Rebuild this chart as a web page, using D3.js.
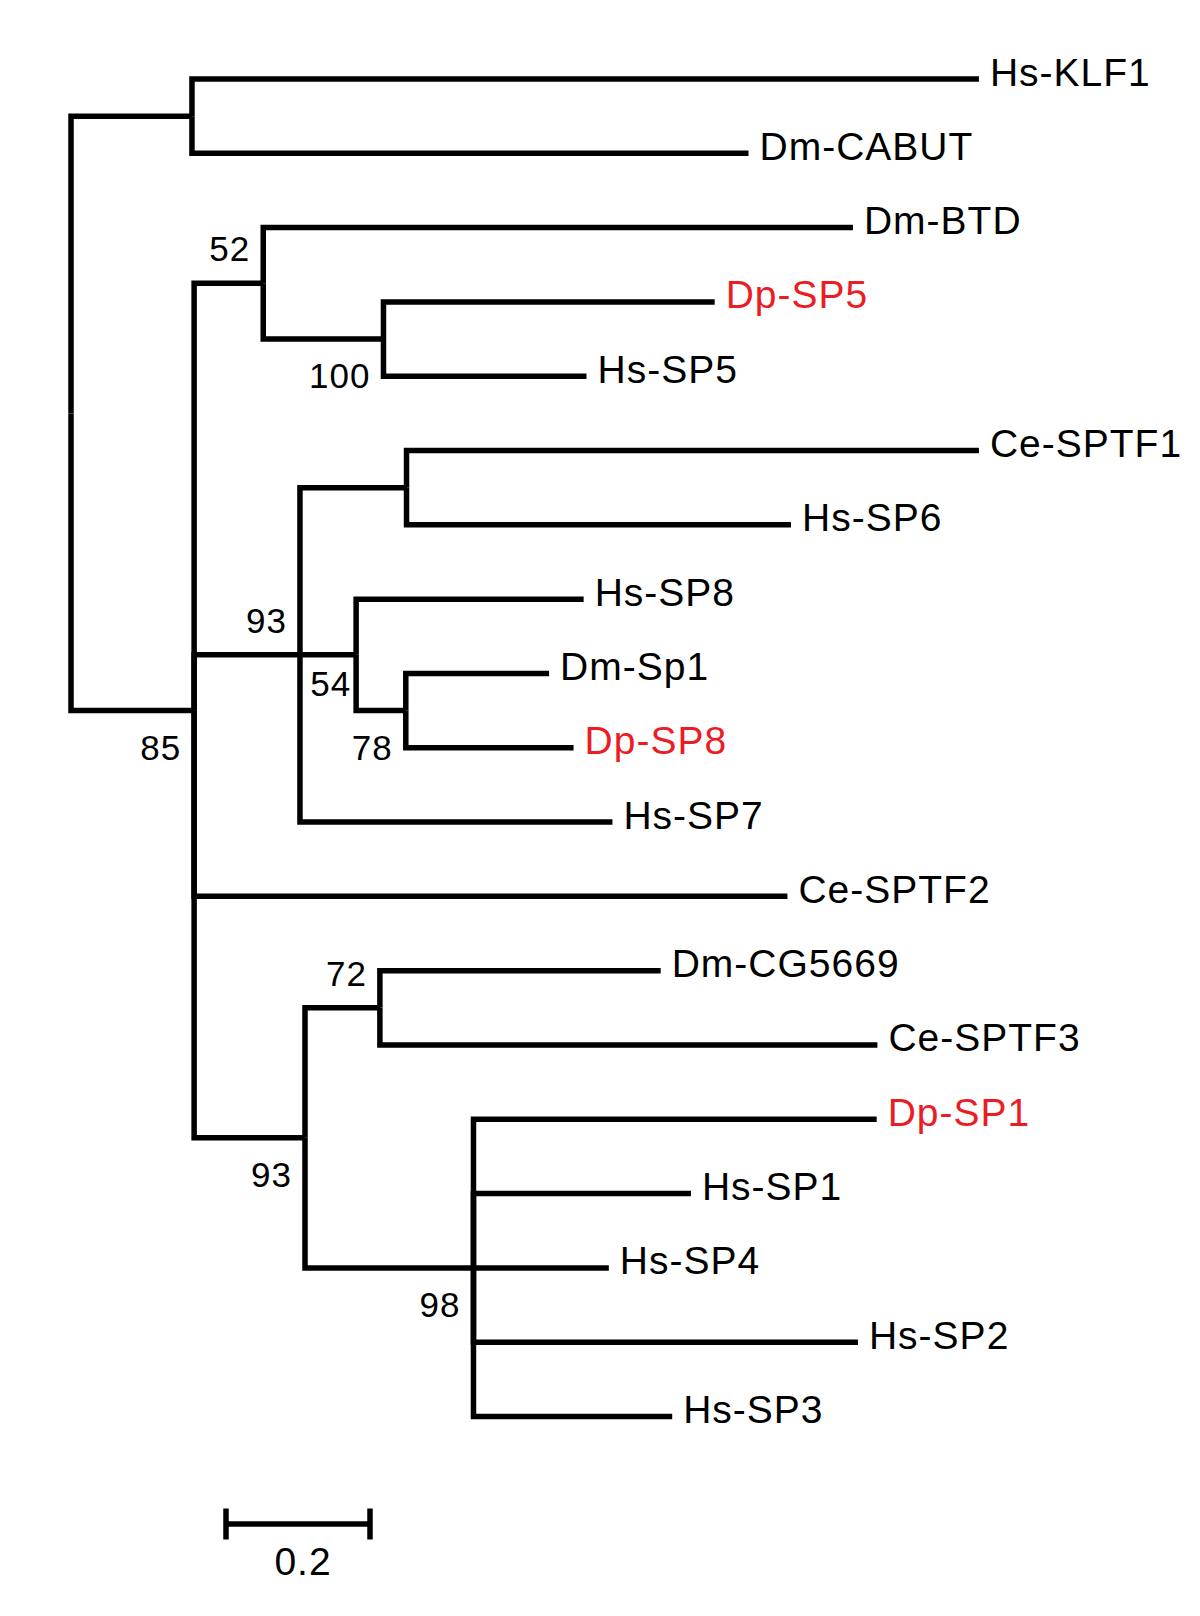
<!DOCTYPE html>
<html>
<head>
<meta charset="utf-8">
<script src="https://cdn.jsdelivr.net/npm/d3@7"></script>
<style>
  html, body { margin: 0; padding: 0; background: #ffffff; }
  svg { display: block; }
</style>
</head>
<body>
<script>
// ---- Data (tree topology, branch lengths, bootstrap support) ----
const nodeIds = [
  "root", "nKC", "Hs-KLF1", "Dm-CABUT",
  "n85", "n52", "Dm-BTD", "n100", "Dp-SP5", "Hs-SP5",
  "n93a", "nCe1", "Ce-SPTF1", "Hs-SP6", "n54", "Hs-SP8", "n78", "Dm-Sp1", "Dp-SP8", "Hs-SP7",
  "Ce-SPTF2",
  "n93b", "n72", "Dm-CG5669", "Ce-SPTF3", "n98", "Dp-SP1", "Hs-SP1", "Hs-SP4", "Hs-SP2", "Hs-SP3"
];
const parentIds = [
  null, "root", "nKC", "nKC",
  "root", "n85", "n52", "n52", "n100", "n100",
  "n85", "n93a", "nCe1", "nCe1", "n93a", "n54", "n54", "n78", "n78", "n93a",
  "n85",
  "n85", "n93b", "n72", "n72", "n93b", "n98", "n98", "n98", "n98", "n98"
];
const branchLengths = [
  0, 0.168, 1.093, 0.773,
  0.171, 0.096, 0.819, 0.167, 0.460, 0.282,
  0.147, 0.148, 0.795, 0.534, 0.078, 0.316, 0.069, 0.199, 0.233, 0.434,
  0.824,
  0.154, 0.104, 0.390, 0.691, 0.234, 0.560, 0.302, 0.188, 0.534, 0.276
];
const supportValues = [
  null, null, null, null,
  85, 52, null, 100, null, null,
  93, null, null, null, 54, null, 78, null, null, null,
  null,
  93, 72, null, null, 98, null, null, null, null, null
];
const supportSide = [
  null, null, null, null,
  "below", "above", null, "below", null, null,
  "above", null, null, null, "inner", null, "below", null, null, null,
  null,
  "below", "above", null, null, "below", null, null, null, null, null
];
const highlightedTaxa = ["Dp-SP5", "Dp-SP8", "Dp-SP1"];
const scaleBarValue = 0.2;
const scaleBarLabel = "0.2";

// ---- Layout ----
const W = 1200, H = 1616;
const strokeW = 5.5;
const labelFont = 39, supportFont = 35;
const red = "#ec1c24";

const rows = nodeIds.map((id, i) => ({
  id, parent: parentIds[i], len: branchLengths[i],
  support: supportValues[i], side: supportSide[i]
}));
const root = d3.stratify().id(d => d.id).parentId(d => d.parent)(rows);

// cumulative distance from the root
root.each(n => { n.dist = n.parent ? n.parent.dist + n.data.len : 0; });

const leaves = root.leaves();
const x = d3.scaleLinear().domain([0, 1.5]).range([71, 71 + 1080]);
const y = d3.scalePoint().domain(leaves.map(d => d.id)).range([79, 1416.5]);

root.eachAfter(n => {
  n.px = x(n.dist);
  if (!n.children) n.py = y(n.id);
  else n.py = (n.children[0].py + n.children[n.children.length - 1].py) / 2;
});

const svg = d3.select("body").append("svg")
  .attr("width", W).attr("height", H)
  .attr("font-family", "'Liberation Sans', Arial, Helvetica, sans-serif");

svg.append("rect").attr("width", W).attr("height", H).attr("fill", "#fff");

// branches (elbow links)
svg.append("g")
  .attr("fill", "none").attr("stroke", "#000")
  .attr("stroke-width", strokeW).attr("stroke-linejoin", "miter")
  .selectAll("path")
  .data(root.descendants().filter(n => n.parent))
  .join("path")
  .attr("d", n => `M${n.parent.px},${n.parent.py}V${n.py}H${n.px}`);

// leaf labels
svg.append("g")
  .attr("font-size", labelFont)
  .attr("letter-spacing", 1)
  .selectAll("text")
  .data(leaves)
  .join("text")
  .attr("x", n => n.px + 11)
  .attr("y", n => n.py + 6.5)
  .attr("fill", n => highlightedTaxa.includes(n.id) ? red : "#000")
  .text(n => n.id);

// bootstrap support values
svg.append("g")
  .attr("font-size", supportFont)
  .attr("letter-spacing", 1)
  .attr("text-anchor", "end")
  .selectAll("text")
  .data(root.descendants().filter(n => n.data.support != null))
  .join("text")
  .attr("x", n => n.data.side === "inner" ? n.px - 5 : n.px - 13)
  .attr("y", n => n.data.side === "above" ? n.py - 22 : (n.data.side === "inner" ? n.py + 41 : n.py + 49))
  .attr("fill", "#000")
  .text(n => n.data.support);

// scale bar
const sbX0 = 226, sbY = 1524;
const sbW = x(scaleBarValue) - x(0);
const sb = svg.append("g").attr("stroke", "#000").attr("stroke-width", strokeW);
sb.append("line").attr("x1", sbX0).attr("x2", sbX0 + sbW).attr("y1", sbY).attr("y2", sbY);
sb.append("line").attr("x1", sbX0).attr("x2", sbX0).attr("y1", sbY - 15.5).attr("y2", sbY + 15.5);
sb.append("line").attr("x1", sbX0 + sbW).attr("x2", sbX0 + sbW).attr("y1", sbY - 15.5).attr("y2", sbY + 15.5);
svg.append("text")
  .attr("x", sbX0 + sbW / 2 + 5).attr("y", 1575)
  .attr("text-anchor", "middle").attr("font-size", labelFont)
  .attr("letter-spacing", 1)
  .attr("fill", "#000")
  .text(scaleBarLabel);
</script>
</body>
</html>
